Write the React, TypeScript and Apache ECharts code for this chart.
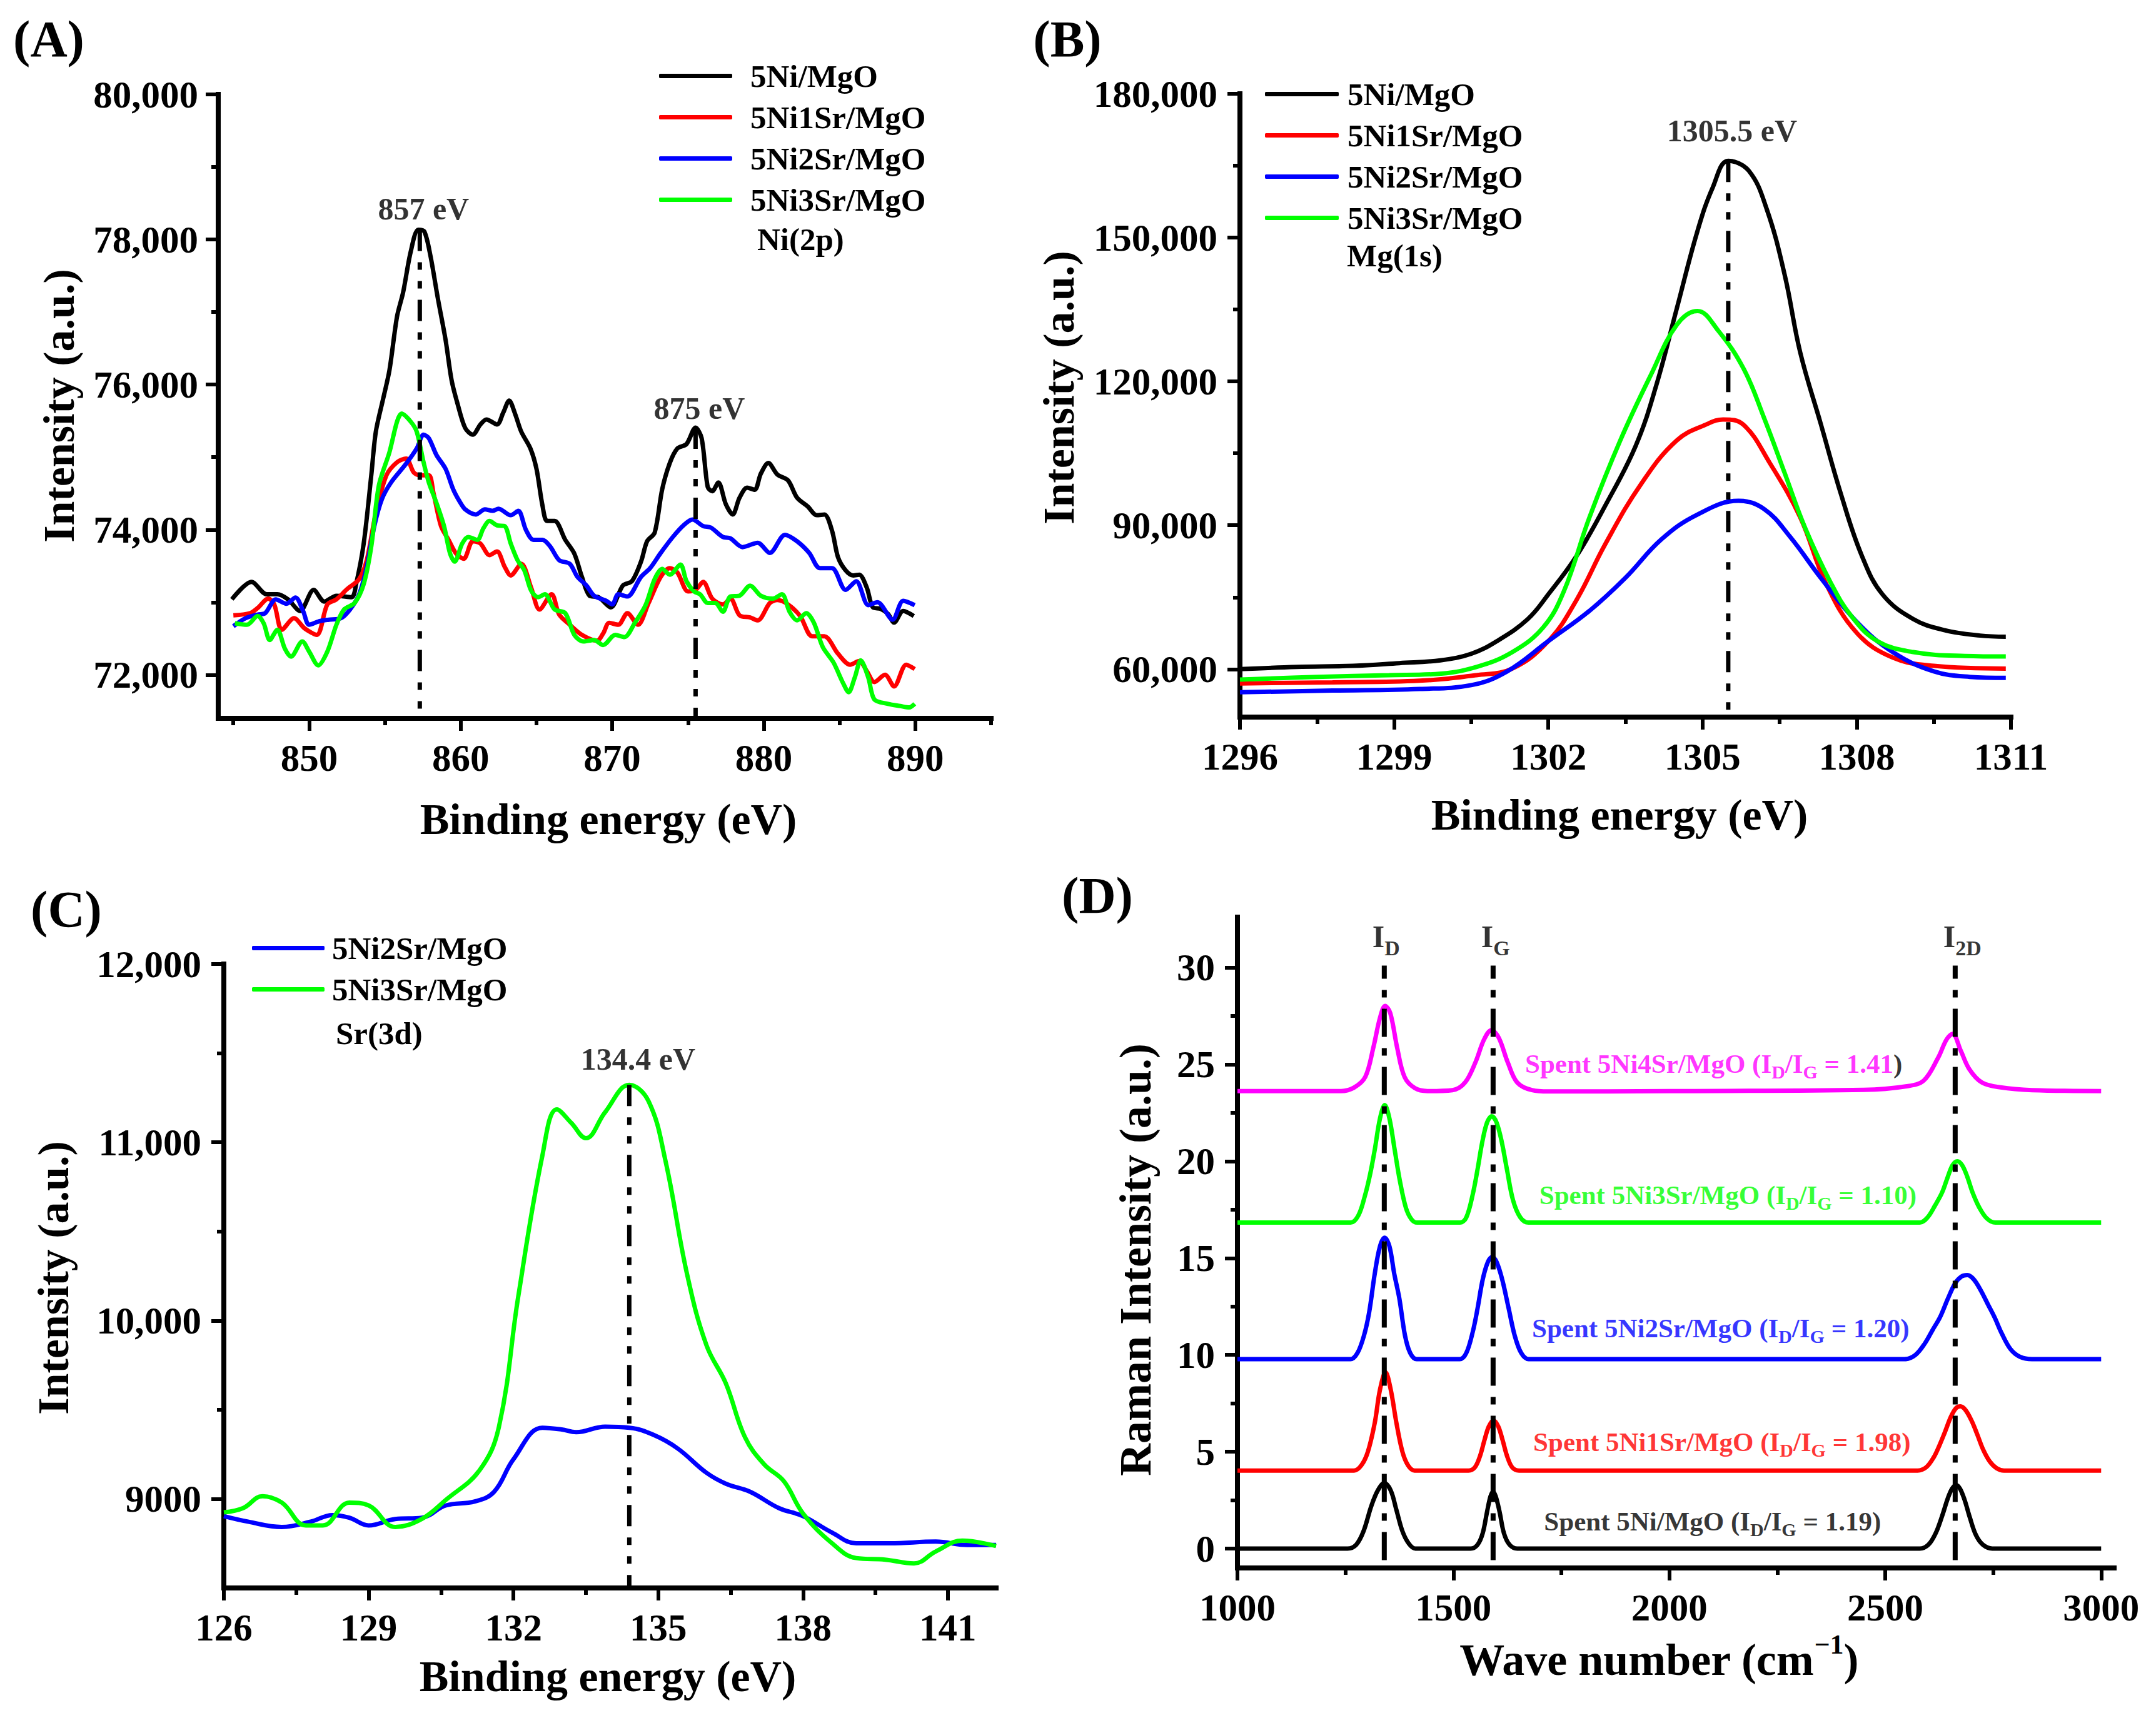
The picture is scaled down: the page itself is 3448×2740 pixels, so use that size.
import React, { useEffect, useRef } from 'react';
import * as echarts from 'echarts';

const W = 3448;
const H = 2740;
const FONT = "'Liberation Serif', 'Times New Roman', serif";

type P = [number, number];

// ---------- Panel A: Ni(2p) ----------
const A_NAMES = ['5Ni/MgO', '5Ni1Sr/MgO', '5Ni2Sr/MgO', '5Ni3Sr/MgO'];
const A_BLACK: P[] = [
  [844.9, 73040], [846.2, 73280], [847.2, 73110], [847.9, 73110], [848.6, 73040], [849.4, 72880], [850.3, 73170],
  [851.0, 73010], [851.8, 73090], [852.8, 73070], [853.1, 73250], [853.6, 73810], [854.1, 74750], [854.4, 75350],
  [854.9, 75820], [855.3, 76200], [855.8, 76940], [856.2, 77270], [856.7, 77830], [857.2, 78135], [857.6, 78110],
  [858.0, 77780], [858.5, 77180], [859.0, 76620], [859.4, 76060], [859.8, 75730], [860.3, 75400], [860.8, 75310],
  [861.3, 75450], [861.7, 75520], [862.4, 75450], [862.8, 75610], [863.2, 75780], [863.6, 75590], [864.0, 75350],
  [864.6, 75120], [865.0, 74840], [865.4, 74330], [865.7, 74120], [866.2, 74120], [866.9, 73860], [867.5, 73670],
  [868.0, 73350], [868.5, 73090], [869.1, 73070], [869.9, 72930], [870.7, 73230], [871.3, 73290], [871.9, 73560],
  [872.3, 73840], [872.8, 73960], [873.3, 74560], [873.8, 74920], [874.3, 75120], [874.9, 75180], [875.5, 75407],
  [875.9, 75260], [876.3, 74590], [876.6, 74530], [877.0, 74650], [877.5, 74350], [877.95, 74210], [878.4, 74440],
  [878.9, 74580], [879.4, 74550], [879.8, 74770], [880.3, 74920], [880.9, 74760], [881.6, 74680], [882.2, 74440],
  [882.9, 74320], [883.5, 74200], [884.0, 74210], [884.5, 73990], [884.9, 73620], [885.4, 73440], [885.9, 73370],
  [886.3, 73380], [886.8, 73200], [887.2, 72930], [887.7, 72910], [888.2, 72840], [888.6, 72720], [889.2, 72880],
  [889.9, 72810],
];
const A_RED: P[] = [
  [845.0, 72820], [846.1, 72850], [846.6, 72920], [847.3, 73050], [847.7, 72970], [848.2, 72620], [849.0, 72780],
  [849.7, 72640], [850.5, 72550], [851.2, 72970], [851.8, 73040], [852.5, 73180], [853.3, 73320], [853.8, 73580],
  [854.4, 74230], [855.1, 74750], [855.8, 74930], [856.4, 74980], [856.9, 74790], [857.3, 74750], [857.9, 74750],
  [858.2, 74510], [858.7, 74050], [859.2, 73860], [859.7, 73670], [860.2, 73600], [860.8, 73840], [861.3, 73810],
  [861.9, 73650], [862.4, 73700], [862.9, 73490], [863.3, 73370], [864.0, 73530], [864.65, 73200], [865.2, 72900],
  [866.0, 73110], [866.5, 72830], [867.2, 72690], [868.0, 72550], [869.0, 72470], [869.4, 72570], [869.8, 72716],
  [870.4, 72690], [871.0, 72850], [871.7, 72690], [872.4, 72990], [873.2, 73350], [873.8, 73470], [874.3, 73410],
  [875.0, 73150], [875.5, 73170], [876.0, 73280], [876.6, 73050], [877.3, 72970], [877.8, 73050], [878.4, 72820],
  [879.1, 72790], [879.6, 72750], [880.4, 72990], [880.9, 73030], [881.6, 72970], [882.4, 72810], [883.2, 72530],
  [884.0, 72530], [884.9, 72290], [885.7, 72140], [886.3, 72190], [886.8, 72050], [887.3, 71900], [888.0, 72000],
  [888.6, 71840], [889.4, 72140], [889.96, 72080],
];
const A_BLUE: P[] = [
  [845.0, 72670], [845.8, 72780], [846.6, 72830], [847.1, 72850], [847.8, 73040], [848.5, 72980], [849.1, 73065],
  [849.6, 72880], [850.0, 72690], [850.7, 72740], [851.3, 72760], [852.1, 72780], [852.7, 72900], [853.3, 73110],
  [853.8, 73490], [854.3, 74050], [854.8, 74420], [855.4, 74650], [856.4, 74910], [857.1, 75120], [857.55, 75310],
  [857.9, 75260], [858.4, 75030], [859.0, 74840], [859.5, 74560], [859.9, 74400], [860.3, 74280], [861.0, 74210],
  [861.6, 74280], [862.1, 74260], [862.5, 74290], [863.3, 74200], [863.8, 74260], [864.3, 74000], [864.8, 73860],
  [865.4, 73860], [865.9, 73770], [866.5, 73580], [867.2, 73530], [867.7, 73350], [868.3, 73230], [868.8, 73090],
  [869.6, 73020], [870.0, 72970], [870.4, 73110], [871.0, 73080], [871.9, 73350], [872.5, 73470], [873.2, 73680],
  [874.0, 73900], [874.7, 74060], [875.3, 74140], [876.0, 74050], [876.5, 74030], [877.3, 73900], [877.8, 73880],
  [878.6, 73760], [879.6, 73820], [880.4, 73680], [881.4, 73930], [882.2, 73840], [883.0, 73680], [883.7, 73470],
  [884.5, 73470], [885.4, 73170], [886.1, 73290], [886.9, 72960], [887.5, 73000], [888.5, 72760], [889.2, 73020],
  [889.96, 72960],
];
const A_GREEN: P[] = [
  [845.1, 72710], [845.9, 72690], [846.6, 72810], [847.0, 72710], [847.4, 72480], [847.9, 72620], [848.4, 72360],
  [848.8, 72250], [849.55, 72460], [850.0, 72320], [850.6, 72130], [851.2, 72320], [851.8, 72690], [852.3, 72900],
  [853.0, 72990], [853.6, 73250], [854.1, 73770], [854.6, 74610], [855.3, 75070], [855.8, 75490], [856.1, 75600],
  [856.7, 75490], [857.1, 75350], [857.55, 74930], [857.9, 74650], [858.4, 74370], [858.9, 74050], [859.3, 73670],
  [859.6, 73560], [860.1, 73810], [860.5, 73900], [861.1, 73860], [861.5, 74020], [861.9, 74120], [862.4, 74060],
  [862.9, 74050], [863.3, 73810], [863.75, 73580], [864.2, 73440], [864.65, 73160], [865.1, 73070], [865.55, 73110],
  [866.2, 72900], [866.9, 72850], [867.5, 72550], [868.1, 72460], [868.8, 72480], [869.4, 72410], [870.2, 72550],
  [870.8, 72520], [871.5, 72720], [872.2, 72960], [872.8, 73320], [873.3, 73460], [873.8, 73380], [874.5, 73520],
  [874.9, 73290], [875.4, 73150], [875.8, 73110], [876.3, 72990], [876.8, 72990], [877.3, 72870], [877.8, 73080],
  [878.4, 73090], [879.1, 73230], [879.8, 73090], [880.6, 73050], [881.2, 73110], [881.7, 72870], [882.2, 72750],
  [882.8, 72850], [883.3, 72720], [883.9, 72380], [884.6, 72170], [885.2, 71900], [885.6, 71760], [886.0, 71960],
  [886.4, 72200], [886.9, 71960], [887.3, 71660], [888.2, 71600], [889.0, 71570], [889.6, 71550], [889.96, 71600],
];
const A_PEAKS: P[] = [[857.3, 78135], [875.5, 75407]];
const A_PEAK_TEXT = ['857 eV', '875 eV'];
const A_X_MAJOR = [850, 860, 870, 880, 890];
const A_X_MINOR = [845, 855, 865, 875, 885, 895];
const A_Y_MAJOR = [72000, 74000, 76000, 78000, 80000];
const A_Y_MINOR = [73000, 75000, 77000, 79000];

// ---------- Panel B: Mg(1s) ----------
const B_BLACK: P[] = [
  [1296, 60000], [1297.1, 60460], [1298.2, 60690], [1299.1, 61260], [1299.9, 61840], [1300.5, 63210], [1301.0, 65850],
  [1301.6, 70440], [1302.0, 75600], [1302.55, 83630], [1303.1, 93960], [1303.7, 106580], [1304.1, 119200],
  [1304.5, 135260], [1304.9, 151320], [1305.2, 160500], [1305.5, 166000], [1305.9, 163940], [1306.25, 155910],
  [1306.6, 142140], [1306.9, 126080], [1307.3, 111170], [1307.7, 96250], [1308.1, 83630], [1308.5, 75600],
  [1309.1, 70440], [1309.7, 68150], [1310.4, 67000], [1310.9, 66770],
];
const B_RED: P[] = [
  [1296, 57020], [1297.8, 57250], [1299.5, 57590], [1300.6, 58740], [1301.3, 60120], [1302.0, 65850], [1302.55, 74460],
  [1303.1, 85930], [1303.8, 98550], [1304.5, 107720], [1305.1, 111170], [1305.4, 112080], [1305.8, 110940],
  [1306.3, 103140], [1306.9, 91660], [1307.4, 77900], [1308.0, 67570], [1308.7, 62410], [1309.5, 60690], [1310.9, 60120],
];
const B_BLUE: P[] = [
  [1296, 55180], [1297.8, 55530], [1299.5, 55870], [1300.5, 56670], [1301.2, 59540], [1302.0, 65850], [1302.8, 72160],
  [1303.5, 79040], [1304.2, 87070], [1304.9, 92240], [1305.7, 95100], [1306.2, 93380], [1306.7, 87650], [1307.3, 79040],
  [1308.0, 69870], [1308.7, 63560], [1309.5, 59540], [1310.2, 58390], [1310.9, 58170],
];
const B_GREEN: P[] = [
  [1296, 57820], [1297.5, 58390], [1298.9, 58740], [1299.8, 58970], [1300.6, 60460], [1301.3, 63560], [1301.9, 68720],
  [1302.3, 76180], [1302.8, 91660], [1303.4, 107720], [1304.0, 121490], [1304.5, 131820], [1304.9, 134680],
  [1305.3, 130670], [1305.8, 122640], [1306.2, 112310], [1306.6, 100840], [1307.0, 89370], [1307.5, 77900],
  [1307.9, 71010], [1308.4, 65850], [1309.1, 63560], [1310.1, 62750], [1310.9, 62640],
];
const B_PEAK: P = [1305.5, 166000];
const B_PEAK_TEXT = '1305.5 eV';
const B_X_MAJOR = [1296, 1299, 1302, 1305, 1308, 1311];
const B_X_MINOR = [1297.5, 1300.5, 1303.5, 1306.5, 1309.5];
const B_Y_MAJOR = [60000, 90000, 120000, 150000, 180000];
const B_Y_MINOR = [75000, 105000, 135000, 165000];

// ---------- Panel C: Sr(3d) ----------
const C_NAMES = ['5Ni2Sr/MgO', '5Ni3Sr/MgO'];
const C_BLUE: P[] = [
  [126, 8903], [126.5, 8872], [127.2, 8842], [127.8, 8872], [128.25, 8909], [128.6, 8894], [129.0, 8851], [129.55, 8887],
  [130.1, 8894], [130.6, 8963], [131.2, 8985], [131.6, 9040], [132.0, 9222], [132.6, 9399], [133.0, 9389], [133.3, 9374],
  [133.9, 9405], [134.4, 9399], [134.9, 9359], [135.4, 9283], [136.0, 9146], [136.4, 9085], [136.9, 9040], [137.5, 8948],
  [138.0, 8903], [138.6, 8811], [139.1, 8751], [139.8, 8751], [140.75, 8760], [141.4, 8741], [142.0, 8741],
];
const C_GREEN: P[] = [
  [126, 8924], [126.4, 8948], [126.8, 9015], [127.2, 8979], [127.7, 8851], [128.05, 8851], [128.6, 8979], [129.0, 8963],
  [129.55, 8842], [130.1, 8887], [130.6, 8994], [131.3, 9161], [131.7, 9405], [132.1, 10135], [132.6, 10926],
  [132.9, 11185], [133.2, 11108], [133.5, 11023], [133.9, 11169], [134.4, 11322], [134.8, 11230], [135.15, 10896],
  [135.6, 10257], [136.0, 9861], [136.4, 9648], [136.8, 9344], [137.2, 9192], [137.6, 9100], [138.0, 8918], [138.6, 8751],
  [139.1, 8668], [139.7, 8659], [140.3, 8638], [140.75, 8705], [141.3, 8766], [142.0, 8735],
];
const C_PEAK: P = [134.4, 11322];
const C_PEAK_TEXT = '134.4 eV';
const C_X_MAJOR = [126, 129, 132, 135, 138, 141];
const C_X_MINOR = [127.5, 130.5, 133.5, 136.5, 139.5];
const C_Y_MAJOR = [9000, 10000, 11000, 12000];
const C_Y_MINOR = [9500, 10500, 11500];

// ---------- Panel D: Raman ----------
const D_BLACK: P[] = [
  [1000, 0], [1255, 0], [1275, 0.2], [1292, 0.9], [1310, 2.2], [1325, 3.0], [1340, 3.38], [1355, 3.0], [1368, 2.0],
  [1382, 0.9], [1397, 0.25], [1412, 0], [1540, 0], [1556, 0.2], [1568, 0.8], [1578, 1.9], [1586, 2.7], [1592, 2.92],
  [1598, 2.7], [1607, 1.9], [1617, 0.8], [1630, 0.2], [1648, 0], [2580, 0], [2600, 0.2], [2617, 0.8], [2632, 1.7],
  [2645, 2.6], [2655, 3.1], [2664, 3.28], [2673, 3.1], [2684, 2.5], [2696, 1.6], [2710, 0.7], [2726, 0.2], [2748, 0],
  [3000, 0],
];
const D_RED: P[] = [
  [1000, 4.03], [1270, 4.03], [1287, 4.3], [1302, 5.0], [1318, 6.5], [1330, 8.2], [1343, 9.1], [1355, 8.2], [1368, 6.5],
  [1382, 5.0], [1395, 4.3], [1410, 4.03], [1535, 4.03], [1550, 4.2], [1562, 4.8], [1572, 5.6], [1582, 6.3], [1593, 6.61],
  [1604, 6.3], [1614, 5.6], [1624, 4.8], [1636, 4.2], [1652, 4.03], [2575, 4.03], [2595, 4.2], [2612, 4.7], [2625, 5.3],
  [2638, 6.0], [2652, 6.8], [2664, 7.25], [2674, 7.34], [2686, 7.15], [2700, 6.6], [2713, 5.9], [2727, 5.1], [2742, 4.5],
  [2758, 4.15], [2775, 4.03], [3000, 4.03],
];
const D_BLUE: P[] = [
  [1000, 9.78], [1262, 9.78], [1278, 10.1], [1293, 11.0], [1305, 12.2], [1318, 14.2], [1330, 15.6], [1341, 16.05],
  [1352, 15.6], [1363, 14.2], [1375, 12.9], [1388, 11.0], [1400, 10.1], [1415, 9.78], [1515, 9.78], [1530, 10.1],
  [1545, 11.2], [1556, 12.4], [1568, 13.9], [1580, 14.8], [1590, 15.05], [1600, 14.8], [1613, 13.9], [1628, 12.4],
  [1642, 11.0], [1657, 10.1], [1674, 9.78], [2545, 9.78], [2570, 10.0], [2592, 10.6], [2610, 11.3], [2627, 11.95],
  [2645, 12.9], [2662, 13.7], [2677, 14.05], [2690, 14.12], [2705, 13.9], [2722, 13.3], [2738, 12.6], [2753, 11.95],
  [2770, 11.1], [2790, 10.3], [2812, 9.9], [2840, 9.78], [3000, 9.78],
];
const D_GREEN: P[] = [
  [1000, 16.83], [1262, 16.83], [1280, 17.2], [1295, 18.2], [1307, 19.3], [1318, 20.6], [1330, 22.2], [1341, 22.9],
  [1352, 22.2], [1364, 20.6], [1376, 19.0], [1390, 17.6], [1403, 17.0], [1416, 16.83], [1515, 16.83], [1530, 17.1],
  [1545, 18.3], [1556, 19.58], [1567, 21.0], [1578, 22.0], [1589, 22.32], [1600, 22.0], [1612, 21.0], [1624, 19.58],
  [1638, 18.0], [1655, 17.1], [1674, 16.83], [2580, 16.83], [2598, 17.1], [2615, 17.7], [2632, 18.4], [2645, 19.2],
  [2656, 19.8], [2667, 20.0], [2678, 19.8], [2690, 19.2], [2702, 18.4], [2718, 17.6], [2735, 17.05], [2755, 16.83],
  [3000, 16.83],
];
const D_MAGENTA: P[] = [
  [1000, 23.62], [1240, 23.62], [1270, 23.8], [1296, 24.35], [1315, 25.9], [1330, 27.4], [1342, 28.02], [1354, 27.64],
  [1370, 25.84], [1387, 24.35], [1411, 23.77], [1440, 23.62], [1498, 23.67], [1527, 24.06], [1551, 25.1], [1571, 26.28],
  [1588, 26.77], [1605, 26.38], [1626, 25.1], [1648, 24.06], [1682, 23.67], [1720, 23.6], [2000, 23.62], [2450, 23.68],
  [2550, 23.87], [2589, 24.16], [2622, 25.32], [2642, 26.28], [2656, 26.57], [2675, 25.7], [2695, 24.74], [2724, 24.06],
  [2767, 23.81], [2840, 23.67], [3000, 23.62],
];
const D_BANDS = [1340, 1592, 2662];
const D_BAND_SUB = ['D', 'G', '2D'];
const D_BAND_LINE_Y: P = [-0.6, 30.1];
const D_BAND_LABEL_Y = 31.6;
const D_SAMPLES = ['5Ni', '5Ni1Sr', '5Ni2Sr', '5Ni3Sr', '5Ni4Sr'];
const D_RATIOS = ['1.19', '1.98', '1.20', '1.10', '1.41'];
const D_LABEL_AT: P[] = [[1710, 1.4], [1685, 5.51], [1682, 11.38], [1699, 18.26], [1666, 25.02]];
const D_X_MAJOR = [1000, 1500, 2000, 2500, 3000];
const D_X_MINOR = [1250, 1750, 2250, 2750];
const D_Y_MAJOR = [0, 5, 10, 15, 20, 25, 30];
const D_Y_MINOR = [2.5, 7.5, 12.5, 17.5, 22.5, 27.5];

const BLACK = '#000000';
const RED = '#ff0000';
const BLUE = '#0000ff';
const GREEN = '#00ff00';
const MAGENTA = '#ff00ff';
const D_COLORS = [BLACK, RED, BLUE, GREEN, MAGENTA];

const XPS_DASH = [34, 18, 12, 18, 12, 18];
const RAMAN_DASH = [45, 18, 12, 18];

const comma = (v: number) => v.toLocaleString('en-US');

function axisPair(
  g: number, min: number, max: number, major: number[], minor: number[], isX: boolean, margin: number,
  fmt: (v: number) => string,
) {
  const common: any = { type: 'value', gridIndex: g, min, max, position: isX ? 'bottom' : 'left', splitLine: { show: false } };
  const main: any = {
    ...common,
    axisLine: { show: true, onZero: false, lineStyle: { color: '#000', width: 8, cap: 'square' } },
    axisTick: { show: true, inside: false, length: 20, customValues: major, lineStyle: { color: '#000', width: 6 } },
    axisLabel: {
      show: true, customValues: major, margin, formatter: fmt, fontSize: 61, fontFamily: FONT, fontWeight: 'bold',
      color: '#000', ...(isX ? { verticalAlign: 'middle' } : {}),
    },
  };
  const minorAxis: any = {
    ...common,
    axisLine: { show: false, onZero: false },
    axisTick: { show: true, inside: false, length: 11, customValues: minor, lineStyle: { color: '#000', width: 6 } },
    axisLabel: { show: false },
  };
  return [main, minorAxis];
}

function lineSeries(g: number, name: string | undefined, data: P[], color: string, smooth: number, width = 7): any {
  return {
    type: 'line', name, data, xAxisIndex: 2 * g, yAxisIndex: 2 * g, symbol: 'none', showSymbol: false, smooth,
    lineStyle: { color, width }, itemStyle: { color }, z: 3, silent: true,
  };
}

function dashSeries(g: number, x: number, y0: number, y1: number, width: number, dash: number[]): any {
  return {
    type: 'line', data: [[x, y0], [x, y1]], xAxisIndex: 2 * g, yAxisIndex: 2 * g, symbol: 'none', showSymbol: false,
    lineStyle: { color: '#000', width, type: dash }, z: 4, silent: true,
  };
}

function peakText(g: number, pt: P, text: string, distance: number, dx: number): any {
  return {
    type: 'scatter', xAxisIndex: 2 * g, yAxisIndex: 2 * g, symbolSize: 1, itemStyle: { color: 'rgba(0,0,0,0)' },
    silent: true, z: 5,
    data: [{ value: pt }],
    label: {
      show: true, position: 'top', distance, offset: [dx, 0], formatter: text, fontSize: 50, lineHeight: 50,
      fontFamily: FONT, fontWeight: 'bold', color: '#000',
    },
  };
}

function legendAt(names: string[], left: number, top: number, itemWidth: number, textPad: number): any {
  return {
    orient: 'vertical', left, top, padding: 0, itemGap: 15, itemWidth, itemHeight: 7, data: names,
    icon: 'roundRect', selectedMode: false,
    textStyle: { fontSize: 51, lineHeight: 50, fontFamily: FONT, fontWeight: 'bold', color: '#000', padding: [0, 0, 0, textPad] },
  };
}

function gtext(text: string, x: number, y: number, size: number, opts: any = {}): any {
  return {
    type: 'text', x, y, rotation: opts.rotation || 0, silent: true,
    style: {
      text, fill: '#000', fontSize: size, fontFamily: FONT, fontWeight: 'bold',
      align: opts.align || 'center', verticalAlign: 'middle', rich: opts.rich,
    },
  };
}

function buildOption(): any {
  const xAxis: any[] = [];
  const yAxis: any[] = [];
  xAxis.push(...axisPair(0, 844, 895, A_X_MAJOR, A_X_MINOR, true, 63, (v) => String(v)));
  yAxis.push(...axisPair(0, 71400, 80000, A_Y_MAJOR, A_Y_MINOR, false, 32, comma));
  xAxis.push(...axisPair(1, 1296, 1311, B_X_MAJOR, B_X_MINOR, true, 63, (v) => String(v)));
  yAxis.push(...axisPair(1, 50000, 180000, B_Y_MAJOR, B_Y_MINOR, false, 36, comma));
  xAxis.push(...axisPair(2, 126, 142, C_X_MAJOR, C_X_MINOR, true, 63, (v) => String(v)));
  yAxis.push(...axisPair(2, 8500, 12000, C_Y_MAJOR, C_Y_MINOR, false, 36, (v) => (v < 10000 ? String(v) : comma(v))));
  xAxis.push(...axisPair(3, 1000, 3030, D_X_MAJOR, D_X_MINOR, true, 63, (v) => String(v)));
  yAxis.push(...axisPair(3, -1, 32.6, D_Y_MAJOR, D_Y_MINOR, false, 36, (v) => String(v)));

  const series: any[] = [];
  // A
  series.push(lineSeries(0, A_NAMES[0], A_BLACK, BLACK, 0.3));
  series.push(lineSeries(0, A_NAMES[1], A_RED, RED, 0.3));
  series.push(lineSeries(0, A_NAMES[2], A_BLUE, BLUE, 0.3));
  series.push(lineSeries(0, A_NAMES[3], A_GREEN, GREEN, 0.3));
  A_PEAKS.forEach((p, i) => {
    series.push(dashSeries(0, p[0], p[1], 71400, 7, XPS_DASH));
    series.push(peakText(0, p, A_PEAK_TEXT[i], i === 0 ? 8 : 6, 6));
  });
  // B
  series.push(lineSeries(1, A_NAMES[0], B_BLACK, BLACK, 0.4));
  series.push(lineSeries(1, A_NAMES[1], B_RED, RED, 0.4));
  series.push(lineSeries(1, A_NAMES[2], B_BLUE, BLUE, 0.4));
  series.push(lineSeries(1, A_NAMES[3], B_GREEN, GREEN, 0.4));
  series.push(dashSeries(1, B_PEAK[0], B_PEAK[1], 50000, 7, XPS_DASH));
  series.push(peakText(1, B_PEAK, B_PEAK_TEXT, 23, 6));
  // C
  series.push(lineSeries(2, C_NAMES[0], C_BLUE, BLUE, 0.4));
  series.push(lineSeries(2, C_NAMES[1], C_GREEN, GREEN, 0.4));
  series.push(dashSeries(2, C_PEAK[0], C_PEAK[1], 8500, 7, XPS_DASH));
  series.push(peakText(2, C_PEAK, C_PEAK_TEXT, 16, 14));
  // D
  [D_BLACK, D_RED, D_BLUE, D_GREEN, D_MAGENTA].forEach((d, i) => {
    series.push(lineSeries(3, undefined, d, D_COLORS[i], 0.35, 7));
  });
  D_BANDS.forEach((x, i) => {
    series.push(dashSeries(3, x, D_BAND_LINE_Y[0], D_BAND_LINE_Y[1], 8, RAMAN_DASH));
    series.push({
      type: 'scatter', xAxisIndex: 6, yAxisIndex: 6, symbolSize: 1, itemStyle: { color: 'rgba(0,0,0,0)' }, silent: true,
      z: 5, data: [{ value: [x, D_BAND_LABEL_Y] }],
      label: {
        show: true, position: 'inside', align: 'left', offset: [-19, 0], formatter: `I{s|${D_BAND_SUB[i]}}`,
        fontSize: 50, lineHeight: 50, fontFamily: FONT, fontWeight: 'bold', color: '#000',
        rich: { s: { fontSize: 34, lineHeight: 34, padding: [38, 0, 0, 0], fontFamily: FONT, fontWeight: 'bold', color: '#000' } },
      },
    });
  });
  D_SAMPLES.forEach((s, i) => {
    const color = D_COLORS[i];
    const closing = i === 4 ? '{k|)}' : ')';
    series.push({
      type: 'scatter', xAxisIndex: 6, yAxisIndex: 6, symbolSize: 1, itemStyle: { color: 'rgba(0,0,0,0)' }, silent: true,
      z: 5, data: [{ value: D_LABEL_AT[i] }],
      label: {
        show: true, position: 'inside', align: 'left', formatter: `Spent ${s}/MgO (I{s|D}/I{s|G} = ${D_RATIOS[i]}${closing}`,
        fontSize: 43, lineHeight: 43, fontFamily: FONT, fontWeight: 'bold', color,
        rich: {
          s: { fontSize: 30, lineHeight: 30, padding: [26, 0, 0, 0], fontFamily: FONT, fontWeight: 'bold', color },
          k: { fontSize: 43, lineHeight: 43, fontFamily: FONT, fontWeight: 'bold', color: '#000' },
        },
      },
    });
  });

  const legend = [
    legendAt(A_NAMES, 1054, 96, 117, 24),
    legendAt(A_NAMES, 2023, 125, 118, 9),
    legendAt(C_NAMES, 403, 1491, 116, 7),
  ];

  const graphic = [
    gtext('(A)', 78, 62, 82),
    gtext('(B)', 1707, 62, 82),
    gtext('(C)', 106, 1454, 82),
    gtext('(D)', 1755, 1432, 82),
    gtext('Ni(2p)', 1211, 383, 51, { align: 'left' }),
    gtext('Mg(1s)', 2154, 409, 51, { align: 'left' }),
    gtext('Sr(3d)', 537, 1653, 51, { align: 'left' }),
    gtext('Binding energy (eV)', 973, 1310, 70),
    gtext('Intensity (a.u.)', 94, 649, 70, { rotation: Math.PI / 2 }),
    gtext('Binding energy (eV)', 2590, 1303, 70),
    gtext('Intensity (a.u.)', 1693, 620, 70, { rotation: Math.PI / 2 }),
    gtext('Binding energy (eV)', 972, 2681, 70),
    gtext('Intensity (a.u.)', 85, 2044, 70, { rotation: Math.PI / 2 }),
    gtext('{t|Wave number (cm}{p|\u22121}{t|)}', 2653, 2655, 72, {
      rich: {
        t: { fontSize: 72, lineHeight: 72, fontFamily: FONT, fontWeight: 'bold', fill: '#000' },
        p: { fontSize: 44, lineHeight: 44, padding: [0, 0, 50, 0], fontFamily: FONT, fontWeight: 'bold', fill: '#000' },
      },
    }),
    gtext('Raman Intensity (a.u.)', 1816, 2015, 72, { rotation: Math.PI / 2 }),
  ];

  return {
    animation: false,
    backgroundColor: '#ffffff',
    textStyle: { fontFamily: FONT, fontWeight: 'bold', color: '#000' },
    grid: [
      { left: 349, top: 151, width: 1236, height: 998, containLabel: false },
      { left: 1983, top: 150, width: 1233, height: 997, containLabel: false },
      { left: 358, top: 1542, width: 1235, height: 998, containLabel: false },
      { left: 1979, top: 1467, width: 1402, height: 1041, containLabel: false },
    ],
    xAxis,
    yAxis,
    legend,
    series,
    graphic,
  };
}

export default function App() {
  const ref = useRef<HTMLDivElement>(null);
  useEffect(() => {
    document.body.style.margin = '0';
    if (!ref.current) return;
    const chart = echarts.init(ref.current, null, { renderer: 'svg', width: W, height: H });
    chart.setOption(buildOption());
    return () => chart.dispose();
  }, []);
  return <div ref={ref} style={{ width: W, height: H, background: '#fff' }} />;
}
